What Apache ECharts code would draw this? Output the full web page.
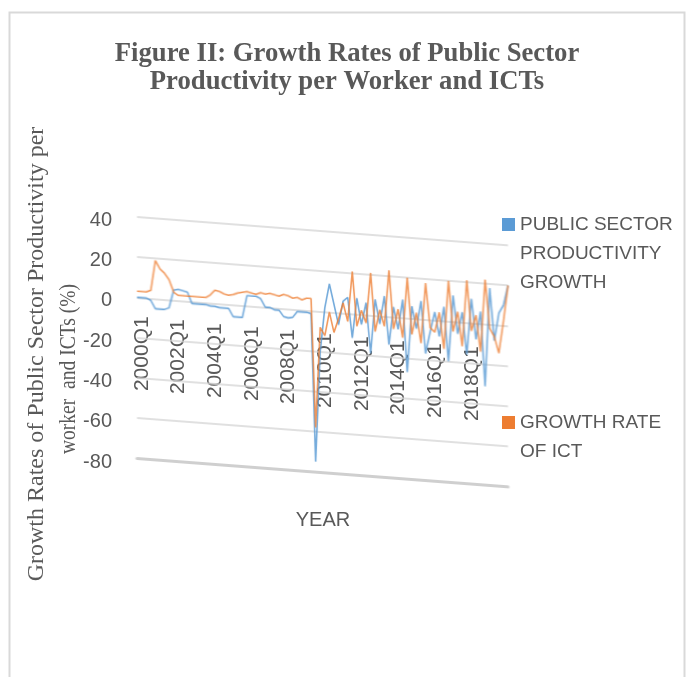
<!DOCTYPE html>
<html>
<head>
<meta charset="utf-8">
<script src="https://cdn.jsdelivr.net/npm/echarts@6/dist/echarts.min.js"></script>
<style>
  html, body { margin: 0; padding: 0; background: #ffffff; }
  #wrap { position: relative; width: 694px; height: 677px; overflow: hidden; }
  #base, #plot { position: absolute; left: 0; top: 0; width: 694px; height: 677px; }
  #plot { transform: skewY(4.37deg); transform-origin: 137px 0px; }
</style>
</head>
<body>
<div id="wrap">
  <div id="base"></div>
  <div id="plot"></div>
</div>
<script>
// ---------------- data ----------------
const quarters = [
  "2000Q1","2000Q2","2000Q3","2000Q4","2001Q1","2001Q2","2001Q3","2001Q4",
  "2002Q1","2002Q2","2002Q3","2002Q4","2003Q1","2003Q2","2003Q3","2003Q4",
  "2004Q1","2004Q2","2004Q3","2004Q4","2005Q1","2005Q2","2005Q3","2005Q4",
  "2006Q1","2006Q2","2006Q3","2006Q4","2007Q1","2007Q2","2007Q3","2007Q4",
  "2008Q1","2008Q2","2008Q3","2008Q4","2009Q1","2009Q2","2009Q3","2009Q4",
  "2010Q1","2010Q2","2010Q3","2010Q4","2011Q1","2011Q2","2011Q3","2011Q4",
  "2012Q1","2012Q2","2012Q3","2012Q4","2013Q1","2013Q2","2013Q3","2013Q4",
  "2014Q1","2014Q2","2014Q3","2014Q4","2015Q1","2015Q2","2015Q3","2015Q4",
  "2016Q1","2016Q2","2016Q3","2016Q4","2017Q1","2017Q2","2017Q3","2017Q4",
  "2018Q1","2018Q2","2018Q3","2018Q4","2019Q1","2019Q2","2019Q3","2019Q4",
  "2020Q1","2020Q2"
];

// quarters that carry a tick label
const labelledQuarters = ["2000Q1","2002Q1","2004Q1","2006Q1","2008Q1","2010Q1","2012Q1","2014Q1","2016Q1","2018Q1"];

// Public sector productivity growth (%)
const publicSectorGrowth = [
  0, 0, 0, -1, -5, -5, -5, -4,
  5, 5.5, 5, 4.5, -1, -1, -1, -1,
  -1.5, -1.5, -2, -2, -2, -6, -6, -6,
  5, 5, 5, 4, 0, 0, -1, -1,
  -4, -4.5, -4, -1, -1, -1, -1.5, -75,
  -20, 2, 14, 4, -6, 6, 8, -12,
  8, -5, 6, -19, 8, -4, 10, -14,
  5, -6, 9, -27, 6, -5, 9, -17,
  -6, 4, -8, 7, -20, 13, -6, 5,
  -16, 12, -8, 6, -31, 18, -8, 6,
  10, 20
];

// Growth rate of ICT (%)
const ictGrowth = [
  3, 3, 3, 4, 19, 15, 13, 10,
  4, 2.5, 2.5, 2.5, 2.5, 2.5, 2.5, 2.5,
  4, 6.5, 6, 5, 4.5, 5, 6, 6.5,
  7, 6.5, 6, 7, 6.5, 7, 6.5, 6,
  7, 6.5, 5.5, 6, 5, 6, 6, -58,
  -8, -12, 0, -10, -3, 5, -4, 21,
  -6, 2, -4, 21, -8, 3, -5, 23,
  -6, 4, -10, 20, -8, 3, -12, 18,
  -4, -6, 4, -14, 20, -5, 5, -12,
  21, -4, 4, -14, 22, -2, -6, -14,
  2, 20
];

const yTicks = { min: -80, max: 40, step: 20 };
const seriesNames = ["PUBLIC SECTOR PRODUCTIVITY GROWTH", "GROWTH RATE OF ICT"];
const legendLabels = ["PUBLIC SECTOR\nPRODUCTIVITY\nGROWTH", "GROWTH RATE\nOF ICT"];
const seriesColors = ["#5B9BD5", "#ED7D31"];
const titleText = "Figure II: Growth Rates of Public Sector\nProductivity per Worker and ICTs";
const yNameLine1 = "Growth Rates of Public Sector Productivity per";
const yNameLine2 = "worker  and ICTs (%)";
const xName = "YEAR";

// ---------------- shared layout ----------------
const TXT = "#595959";
const SANS = "'Liberation Sans', Arial, sans-serif";
const SERIF = "'Liberation Serif', 'Times New Roman', serif";
const plotRect = { left: 137, top: 217, width: 371, height: 241 };
const SKEW_DEG = 4.37;
const LABEL_DROP_PER_PX = 0.092;   // labels sink slightly faster than the zero line (perspective)
const step = plotRect.width / (quarters.length - 1);
// distance from the bottom of the plot up to the zero line
const zeroOffset = plotRect.height * (0 - yTicks.min) / (yTicks.max - yTicks.min);

// per-label rich styles so the unskewed labels follow the sloping zero line
const labelRich = {};
quarters.forEach(function (q, i) {
  labelRich["q" + i] = { padding: [10, Math.round(LABEL_DROP_PER_PX * step * i), 0, 0], fontFamily: SANS, fontSize: 21, color: TXT };
});

// ---------------- base layer (unskewed text) ----------------
const base = echarts.init(document.getElementById("base"), null, { renderer: "canvas" });
base.setOption({
  animation: false,
  backgroundColor: "#ffffff",
  title: {
    text: titleText,
    left: 'center',
    top: 40,
    padding: [0, 0, 0, 8],
    textStyle: { fontFamily: SERIF, fontWeight: "bold", fontSize: 26.7, lineHeight: 28, color: TXT }
  },
  grid: [
    { left: 120, top: 220, width: 10, height: 242 },
    Object.assign({}, plotRect)
  ],
  xAxis: [
    { type: "value", show: false, min: 0, max: 1, gridIndex: 0 },
    {
      type: "category", data: quarters, boundaryGap: false, gridIndex: 1,
      offset: -zeroOffset,
      axisLine: { show: false, onZero: false }, axisTick: { show: false }, splitLine: { show: false },
      axisLabel: {
        rotate: 90, margin: 19,
        interval: function (index, value) { return labelledQuarters.indexOf(value) !== -1; },
        formatter: function (value) { return "{q" + quarters.indexOf(value) + "|" + value + "}"; },
        rich: labelRich
      }
    }
  ],
  yAxis: [
    {
      type: "value", min: yTicks.min, max: yTicks.max, interval: yTicks.step, gridIndex: 0,
      axisLine: { show: false }, axisTick: { show: false }, splitLine: { show: false },
      axisLabel: { fontFamily: SANS, fontSize: 20, color: TXT, margin: 8 }
    },
    { type: "value", min: yTicks.min, max: yTicks.max, gridIndex: 1, show: false }
  ],
  legend: [
    {
      data: [seriesNames[0]], orient: "vertical", left: 502, top: 152, padding: 0,
      itemWidth: 13, itemHeight: 13, icon: "rect",
      formatter: function () { return "\n\n" + legendLabels[0]; },
      textStyle: { fontFamily: SANS, fontSize: 19, lineHeight: 29, color: TXT }
    },
    {
      data: [seriesNames[1]], orient: "vertical", left: 502, top: 379, padding: 0,
      itemWidth: 13, itemHeight: 13, icon: "rect",
      formatter: function () { return "\n" + legendLabels[1]; },
      textStyle: { fontFamily: SANS, fontSize: 19, lineHeight: 29, color: TXT }
    }
  ],
  series: [
    { name: seriesNames[0], type: "line", data: [], xAxisIndex: 0, yAxisIndex: 0, itemStyle: { color: seriesColors[0] } },
    { name: seriesNames[1], type: "line", data: [], xAxisIndex: 0, yAxisIndex: 0, itemStyle: { color: seriesColors[1] } }
  ],
  graphic: [
    { type: "rect", shape: { x: 9.5, y: 12.5, width: 675, height: 720 },
      style: { fill: "none", stroke: "#d9d9d9", lineWidth: 2 }, silent: true },
    { type: "text", x: 37, y: 354, rotation: Math.PI / 2,
      style: { text: yNameLine1, font: "24px " + SERIF, fill: TXT, align: "center", verticalAlign: "middle" } },
    { type: "text", x: 69, y: 369, rotation: Math.PI / 2, scaleX: 0.85,
      style: { text: yNameLine2, font: "23px " + SERIF, fill: TXT, align: "center", verticalAlign: "middle" } },
    { type: "text", x: 323, y: 520,
      style: { text: xName, font: "20px " + SANS, fill: TXT, align: "center", verticalAlign: "middle" } }
  ]
});

// ---------------- plot layer (skewed for perspective) ----------------
const plot = echarts.init(document.getElementById("plot"), null, { renderer: "canvas" });
plot.setOption({
  animation: false,
  backgroundColor: "transparent",
  grid: [ Object.assign({}, plotRect), Object.assign({}, plotRect) ],
  xAxis: [
    {
      type: "category", data: quarters, boundaryGap: false, gridIndex: 0,
      axisLine: { show: false, onZero: false }, axisTick: { show: false }, axisLabel: { show: false }
    },
    {
      type: "category", data: quarters, boundaryGap: false, gridIndex: 1, position: "bottom",
      axisLine: { show: true, onZero: false, lineStyle: { color: "#cfcfcf", width: 3 } },
      axisTick: { show: false }, axisLabel: { show: false }, splitLine: { show: false }
    }
  ],
  yAxis: [
    {
      type: "value", min: yTicks.min, max: yTicks.max, interval: yTicks.step, gridIndex: 0,
      axisLine: { show: false }, axisTick: { show: false }, axisLabel: { show: false },
      splitLine: { lineStyle: { color: "#d6d6d6", width: 1.5 } }
    },
    { type: "value", min: yTicks.min, max: yTicks.max, interval: yTicks.step, gridIndex: 1, show: false }
  ],
  series: [
    { name: seriesNames[0], type: "line", data: publicSectorGrowth, xAxisIndex: 0, yAxisIndex: 0,
      showSymbol: false, lineStyle: { color: seriesColors[0], width: 1.6, opacity: 0.85 },
      itemStyle: { color: seriesColors[0] } },
    { name: seriesNames[1], type: "line", data: ictGrowth, xAxisIndex: 0, yAxisIndex: 0,
      showSymbol: false, lineStyle: { color: seriesColors[1], width: 1.6, opacity: 0.8 },
      itemStyle: { color: seriesColors[1] } }
  ]
});
</script>
</body>
</html>
